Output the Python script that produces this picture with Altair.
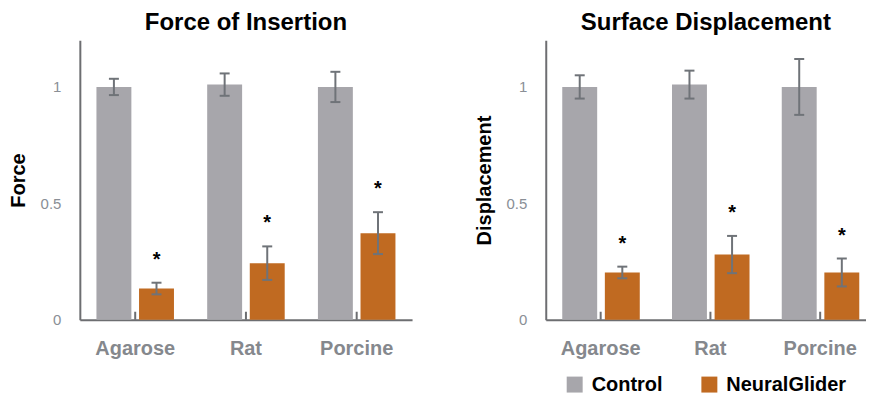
import altair as alt
import pandas as pd

categories = ["Agarose", "Rat", "Porcine"]
groups = ["Control", "NeuralGlider"]

force_control = [1.0, 1.01, 1.0]
force_control_err = [0.035, 0.048, 0.065]
force_glider = [0.134, 0.243, 0.372]
force_glider_err = [0.025, 0.072, 0.09]

disp_control = [1.0, 1.01, 1.0]
disp_control_err = [0.05, 0.06, 0.12]
disp_glider = [0.203, 0.28, 0.203]
disp_glider_err = [0.025, 0.08, 0.06]

significance = ["*", "*", "*"]

GREY = "#a7a6ab"
ORANGE = "#c06a21"
ERR = "#6f7378"
AXIS = "#6d6e71"


def make_df(ctrl, ctrl_err, gl, gl_err):
    rows = []
    for i, c in enumerate(categories):
        rows.append(dict(cat=c, group="Control", value=ctrl[i],
                         lo=ctrl[i] - ctrl_err[i], hi=ctrl[i] + ctrl_err[i], star=""))
        rows.append(dict(cat=c, group="NeuralGlider", value=gl[i],
                         lo=gl[i] - gl_err[i], hi=gl[i] + gl_err[i], star=significance[i]))
    return pd.DataFrame(rows)


def panel(df, title, ytitle, w, xscale, h=280):
    base = alt.Chart(df)
    xs = alt.Scale(**xscale)
    x = alt.X("cat:N", sort=categories, title=None, scale=xs,
              axis=alt.Axis(labelFontSize=20, labelFontWeight="bold", labelColor="#85888d",
                            labelPadding=19, ticks=False, domainColor=AXIS, domainWidth=2,
                            labelAngle=0))
    xo = alt.XOffset("group:N", sort=groups, scale=alt.Scale(paddingInner=0.18, paddingOuter=0))
    y = alt.Y("value:Q", scale=alt.Scale(domain=[0, 1.2], nice=False), title=ytitle,
              axis=alt.Axis(values=[0, 0.5, 1], format="~g", grid=False, ticks=False,
                            labelFontSize=15, labelColor="#8a8f96", labelPadding=19,
                            titleFontSize=20, titleFontWeight="bold", titleColor="black",
                            titlePadding=12, domainColor=AXIS, domainWidth=2))
    xc = alt.X("cat:N", sort=categories, scale=xs)
    bars = base.mark_bar().encode(
        x=x, xOffset=xo, y=y,
        color=alt.Color("group:N", sort=groups, title=None,
                        scale=alt.Scale(domain=groups, range=[GREY, ORANGE])))
    err = base.mark_rule(color=ERR, strokeWidth=2).encode(
        x=xc, xOffset=xo, y="lo:Q", y2="hi:Q")
    cap_hi = base.mark_tick(color=ERR, thickness=2, size=10, opacity=1).encode(
        x=xc, xOffset=xo, y="hi:Q")
    cap_lo = base.mark_tick(color=ERR, thickness=2, size=10, opacity=1).encode(
        x=xc, xOffset=xo, y="lo:Q")
    stars = base.transform_filter(alt.datum.star != "").mark_text(
        dy=-23, fontSize=20, fontWeight="bold", color="black", baseline="middle").encode(
        x=xc, xOffset=xo, y="hi:Q", text="star:N")
    gticks = base.transform_filter(alt.datum.group == "Control").mark_rule(
        color=AXIS, strokeWidth=2).encode(
        x=xc, y=alt.value(h - 8), y2=alt.value(h))
    return alt.layer(bars, err, cap_hi, cap_lo, stars, gticks).properties(
        width=w, height=h, title=title)


left = panel(make_df(force_control, force_control_err, force_glider, force_glider_err),
             "Force of Insertion", "Force", 333,
             dict(paddingInner=0.3, paddingOuter=0.15))
right = panel(make_df(disp_control, disp_control_err, disp_glider, disp_glider_err),
              "Surface Displacement", "Displacement", 321,
              dict(paddingInner=0.3, paddingOuter=0.109, align=0.69))

chart = alt.hconcat(left, right, spacing=62).properties(
    padding={"left": 0, "top": 3, "right": 0, "bottom": 0}
).configure(
    font="Liberation Sans"
).configure_view(stroke=None).configure_title(
    fontSize=24, fontWeight="bold", color="black", offset=5
).configure_legend(
    orient="none", legendX=486, legendY=335, direction="horizontal",
    labelFontSize=20, labelFontWeight="bold", labelColor="black",
    symbolType="square", symbolSize=256, symbolStrokeWidth=0, symbolOpacity=1,
    columnPadding=36, labelOffset=7
)

chart.save("out.html", embed_options={"renderer": "svg", "actions": False})
